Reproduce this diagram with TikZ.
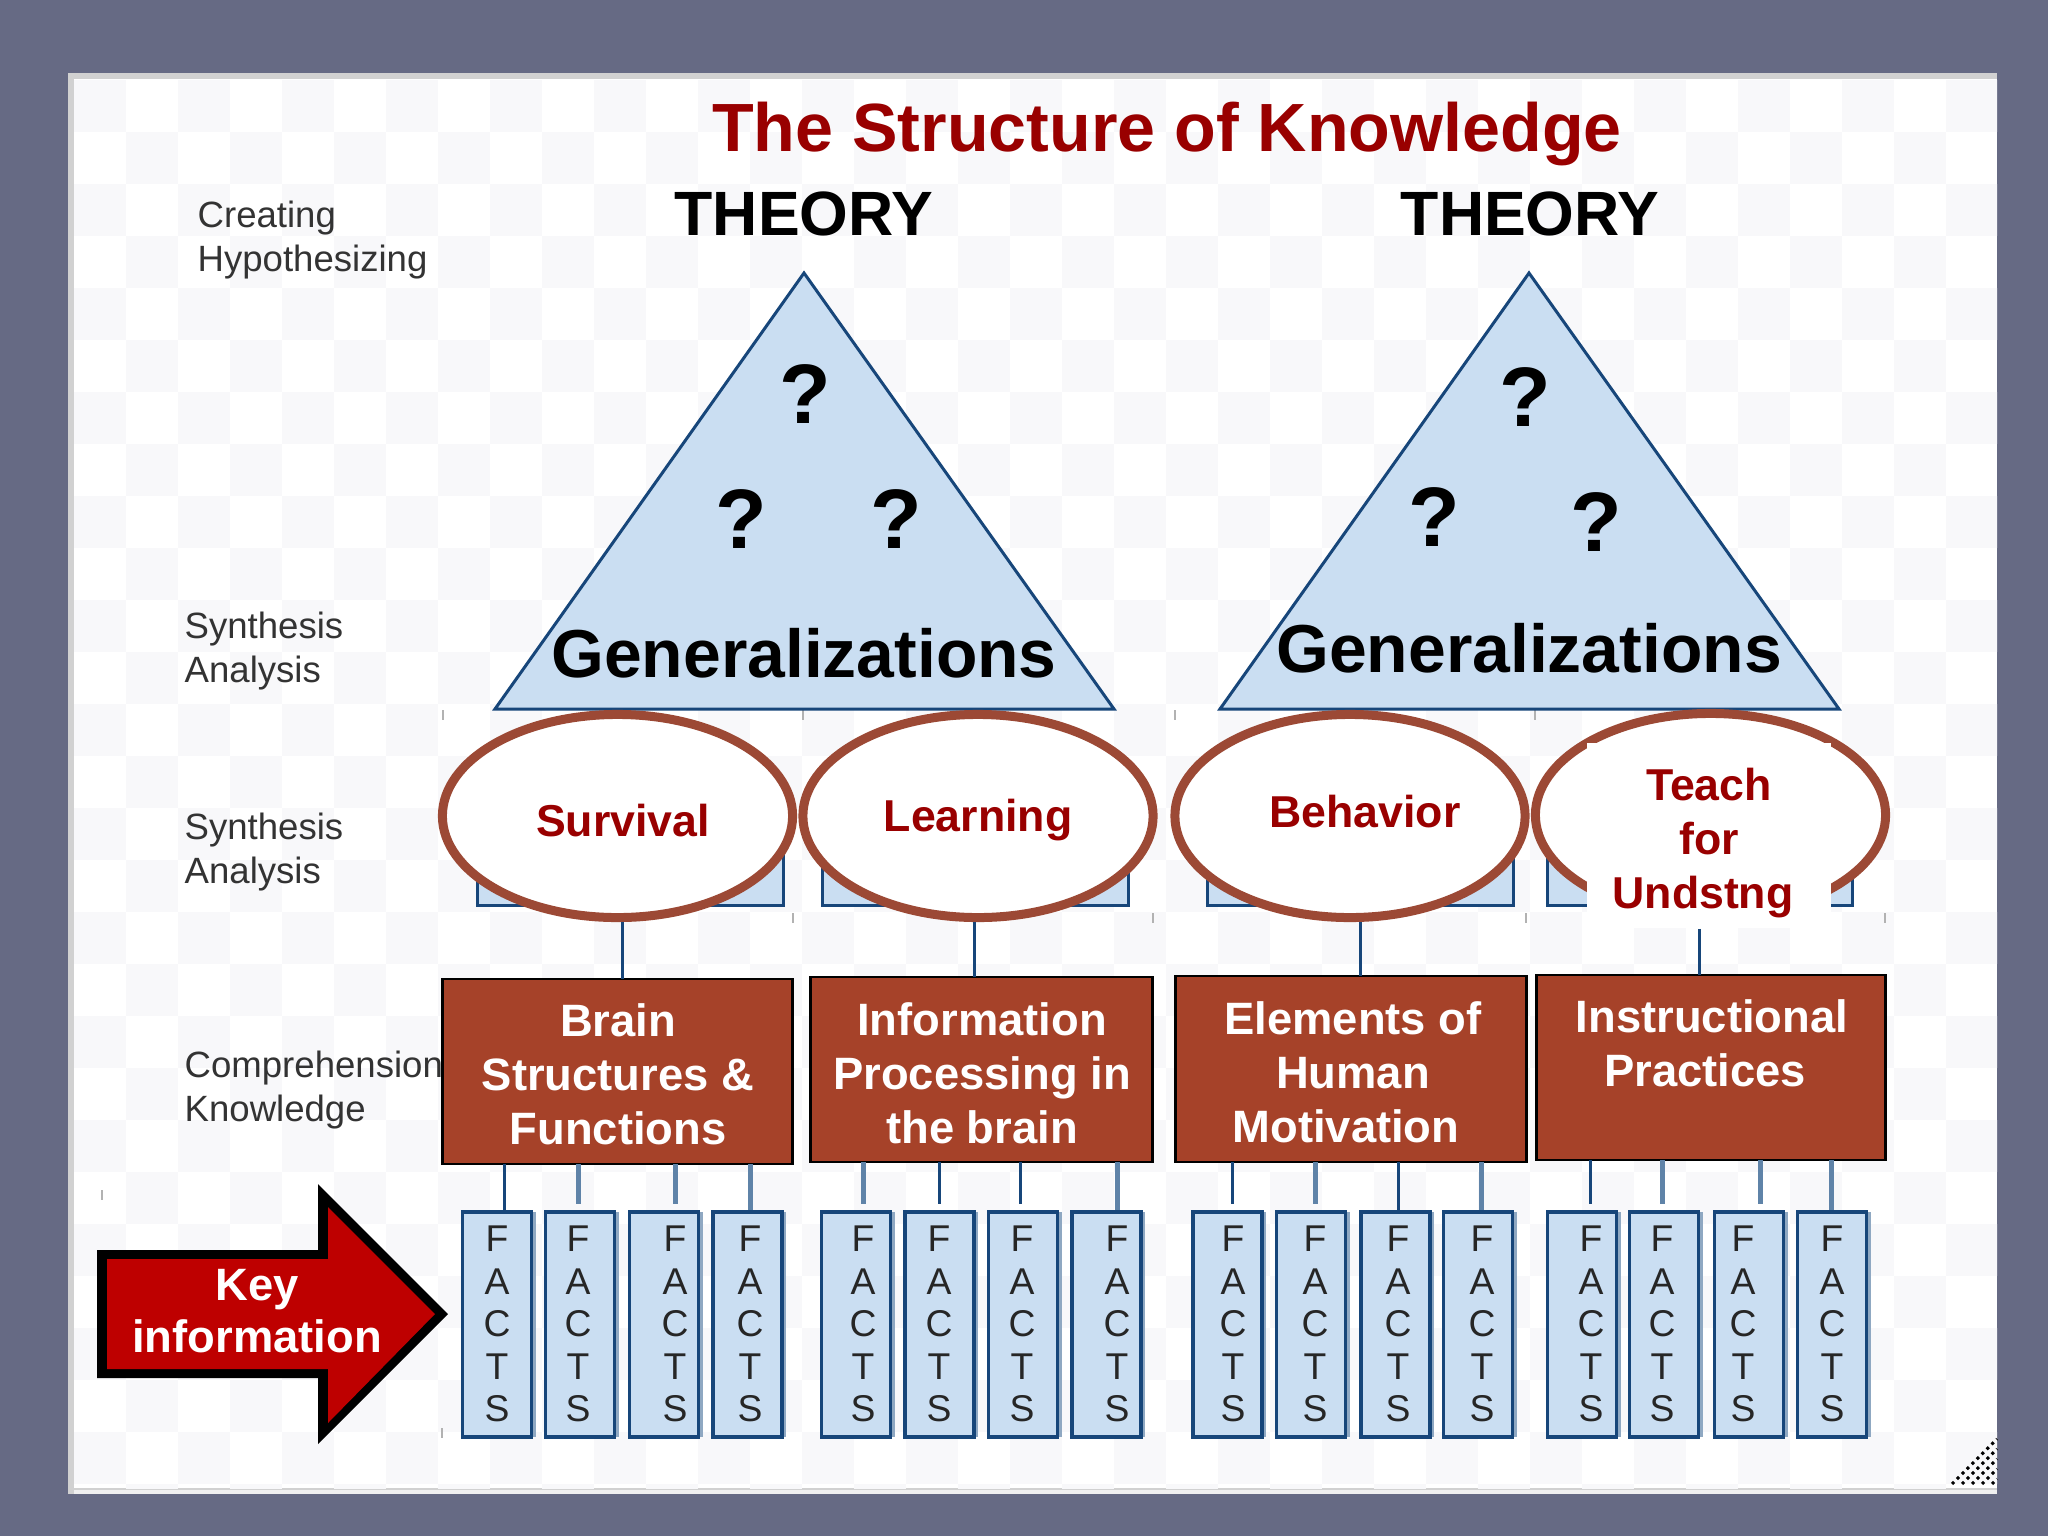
\documentclass[tikz,border=0pt]{standalone}
\usepackage{fontspec}
\setmainfont{Liberation Sans}
\usepackage{xcolor}
\usetikzlibrary{calc,shapes.geometric}

\definecolor{slidebg}{HTML}{666A84}
\definecolor{tilegrey}{HTML}{F8F8FA}
\definecolor{paleblue}{HTML}{CADEF2}
\definecolor{linkblue}{HTML}{17467A}
\definecolor{linkpale}{HTML}{5F83A8}
\definecolor{brick}{HTML}{A64229}
\definecolor{ovalbrown}{HTML}{9C4935}
\definecolor{darkred}{HTML}{990000}
\definecolor{keyred}{HTML}{BE0000}

\tikzset{
	sidelabel/.style={anchor=west, inner sep=0pt, align=left, text=black!80, font=\fontsize{10.4}{12.3}\selectfont},
	theorylabel/.style={inner sep=0pt, font=\bfseries\fontsize{17.8}{21}\selectfont},
	genlabel/.style={inner sep=0pt, font=\bfseries\fontsize{19.3}{23}\selectfont},
	qlabel/.style={inner sep=0pt, font=\bfseries\fontsize{24}{28}\selectfont},
	triangleshape/.style={fill=paleblue, draw=linkblue, line width=.03cm, line join=miter},
	ovalnode/.style={ellipse, fill=white, draw=ovalbrown, line width=.09cm, outer sep=.045cm, inner sep=0pt, minimum width=3.5cm, minimum height=2.03cm},
	ovallabel/.style={inner sep=0pt, text=darkred, align=center, font=\bfseries\fontsize{12.7}{15.4}\selectfont},
	brownbox/.style={rectangle, fill=brick, draw=black, line width=.025cm, outer sep=0pt, inner sep=0pt},
	boxlabel/.style={inner sep=0pt, text=white, align=center, font=\bfseries\fontsize{12.9}{15.4}\selectfont},
	factbox/.style={rectangle, fill=paleblue, draw=linkblue, line width=.035cm, outer sep=0pt, inner sep=0pt, minimum width=.69cm, minimum height=2.25cm},
	factlabel/.style={inner sep=0pt, align=center, text=black!85, font=\fontsize{10.6}{12.1}\selectfont},
	darklink/.style={draw=linkblue, line width=.03cm},
	palelink/.style={draw=linkpale, line width=.05cm},
	darkgap/.style={darklink, shorten >=.06cm},
	palegap/.style={palelink, shorten >=.06cm},
	tickmark/.style={draw=black!30, line width=.012cm},
}

\begin{document}
\begin{tikzpicture}[x=.01cm, y=-.01cm]
	\useasboundingbox (0,0) rectangle (2048,1536);
	\fill[slidebg] (0,0) rectangle (2048,1536);
	\fill[black!18] (68,73) rectangle (1997,1494);
	\fill[white] (74,79) rectangle (1997,1488);
	\fill[black!6] (74,1490) rectangle (1997,1494);

	\begin{scope}
		\clip (74,79) rectangle (1997,1488);
		\foreach \i in {0,...,36} {
			\foreach \j in {0,...,27} {
				\ifodd\numexpr\i+\j\relax\else
					\fill[tilegrey] ({74+52*\i},{80+52*\j}) rectangle ++(52,52);
				\fi
			}
		}
	\end{scope}

	\foreach \k in {0,...,4} {
		\draw[line width=.03cm, dash pattern=on .03cm off .04cm] ({1952+10*\k},1484) -- (1997,{1439+10*\k});
	}

	\foreach \tx/\ty in {443/715, 803/715, 793/918, 1153/918, 1175/715, 1535/715, 1526/918, 1885/918, 102/1195, 442/1433} {
		\draw[tickmark] (\tx,\ty-5) -- (\tx,\ty+5);
	}

	\node[inner sep=0pt, text=darkred, font=\bfseries\fontsize{19.4}{23}\selectfont] (title) at (1167,134) {The Structure of Knowledge};
	\node[theorylabel] (theoryA) at (804,214) {THEORY};
	\node[theorylabel] (theoryB) at (1530,214) {THEORY};

	\node[sidelabel] (creating) at (197,240) {Creating\\Hypothesizing};
	\node[sidelabel] (synthA) at (184,651) {Synthesis\\Analysis};
	\node[sidelabel] (synthB) at (184,852) {Synthesis\\Analysis};
	\node[sidelabel] (compre) at (184,1090) {Comprehension\\Knowledge};

	\draw[triangleshape] (804,273) -- (1114,709) -- (495,709) -- cycle;
	\draw[triangleshape] (1529,273) -- (1839,709) -- (1220,709) -- cycle;
	\node[qlabel] (qa) at (805,394) {?};
	\node[qlabel] (qb) at (741,519) {?};
	\node[qlabel] (qc) at (896,519) {?};
	\node[qlabel] (qd) at (1525,397) {?};
	\node[qlabel] (qe) at (1434,517) {?};
	\node[qlabel] (qf) at (1596,522) {?};
	\node[genlabel] (genA) at (804,653) {Generalizations};
	\node[genlabel] (genB) at (1529,648) {Generalizations};

	\foreach \bl/\br in {477/783, 822/1128, 1207/1513, 1547/1852} {
		\fill[paleblue] (\bl,780) rectangle (\br,905);
		\draw[linkblue, line width=.03cm] (\bl,780) -- (\bl,905) -- (\br,905) -- (\br,780);
	}

	\node[brownbox, minimum width=3.5cm, minimum height=1.85cm] (brain) at (617.5,1071.5) {};
	\node[brownbox, minimum width=3.42cm, minimum height=1.85cm] (info) at (981.5,1069.5) {};
	\node[brownbox, minimum width=3.51cm, minimum height=1.86cm] (motiv) at (1351,1069) {};
	\node[brownbox, minimum width=3.49cm, minimum height=1.85cm] (instr) at (1711,1067.5) {};
	\node[boxlabel] (braintxt) at (618,1074) {Brain\\Structures \&\\Functions};
	\node[boxlabel] (infotxt) at (982,1073) {Information\\Processing in\\the brain};
	\node[boxlabel] (motivtxt) at (1353,1072) {Elements of\\Human\\Motivation\hspace*{.14cm}};
	\node[boxlabel] (instrtxt) at (1712,1043.5) {Instructional\\Practices\hspace*{.14cm}};

	\node[ovalnode] (survival) at (617.5,816) {};
	\node[ovalnode] (learning) at (978,816) {};
	\node[ovalnode] (behavior) at (1350,816) {};
	\node[ovalnode] (teach) at (1710.5,815) {};
	\node[ovallabel] (survivaltxt) at (623,821) {Survival};
	\node[ovallabel] (learningtxt) at (978,820) {Learning};
	\node[ovallabel] (behaviortxt) at (1365,812) {Behavior};
	\node[fill=white, inner sep=0pt, minimum width=2.44cm, minimum height=1.85cm] (teachbox) at (1709,835.5) {};
	\node[ovallabel] (teachtxt) at (1709,843) {Teach\\for\\Undstng\hspace*{.12cm}};

	\coordinate (ca) at (622,1000);
	\coordinate (cb) at (974,1000);
	\coordinate (cc) at (1360,1000);
	\coordinate (cd) at (1699,1000);
	\draw[darklink] (survival.south -| ca) -- (brain.north -| ca);
	\draw[darklink] (learning.south -| cb) -- (info.north -| cb);
	\draw[darklink] (behavior.south -| cc) -- (motiv.north -| cc);
	\draw[darklink] (teachbox.south -| cd) -- (instr.north -| cd);

	\foreach \bx/\fx/\lx/\lk/\bk [count=\n] in {
		497/497/504/darklink/brain, 580/578/578/palegap/brain, 664/675/675/palegap/brain, 747.5/750/750/palelink/brain,
		856/863/863/palegap/info, 939.5/939/939/darkgap/info, 1023/1022/1020/darkgap/info, 1106.5/1117/1117/palelink/info,
		1227.5/1233/1232/darkgap/motiv, 1311/1315/1315/palegap/motiv, 1395.5/1398/1398/darklink/motiv, 1478/1482/1481/palelink/motiv,
		1582/1591/1590/darkgap/instr, 1664/1662/1662/palegap/instr, 1749/1743/1760/palegap/instr, 1832/1832/1831/palelink/instr} {
		\draw[linkpale!70, line width=.03cm] ({\bx+37},1212) -- ({\bx+37},1437);
		\node[factbox] (fact\n) at (\bx,1324.5) {};
		\node[factlabel] (facttxt\n) at (\fx,1324) {F\\A\\C\\T\\S};
		\coordinate (top\n) at (\lx,1210);
		\draw[\lk] (\bk.south -| top\n) -- (top\n);
	}

	\fill[black] (97,1250) -- (318,1250) -- (318,1184) -- (448,1314) -- (318,1444) -- (318,1378) -- (97,1378) -- cycle;
	\fill[keyred] (107,1259) -- (328,1259) -- (328,1207) -- (435,1314) -- (328,1423) -- (328,1369) -- (107,1369) -- cycle;
	\node[inner sep=0pt, text=white, align=center, font=\bfseries\fontsize{12.9}{15}\selectfont] (keytxt) at (257,1311) {Key\\information};
\end{tikzpicture}
\end{document}
